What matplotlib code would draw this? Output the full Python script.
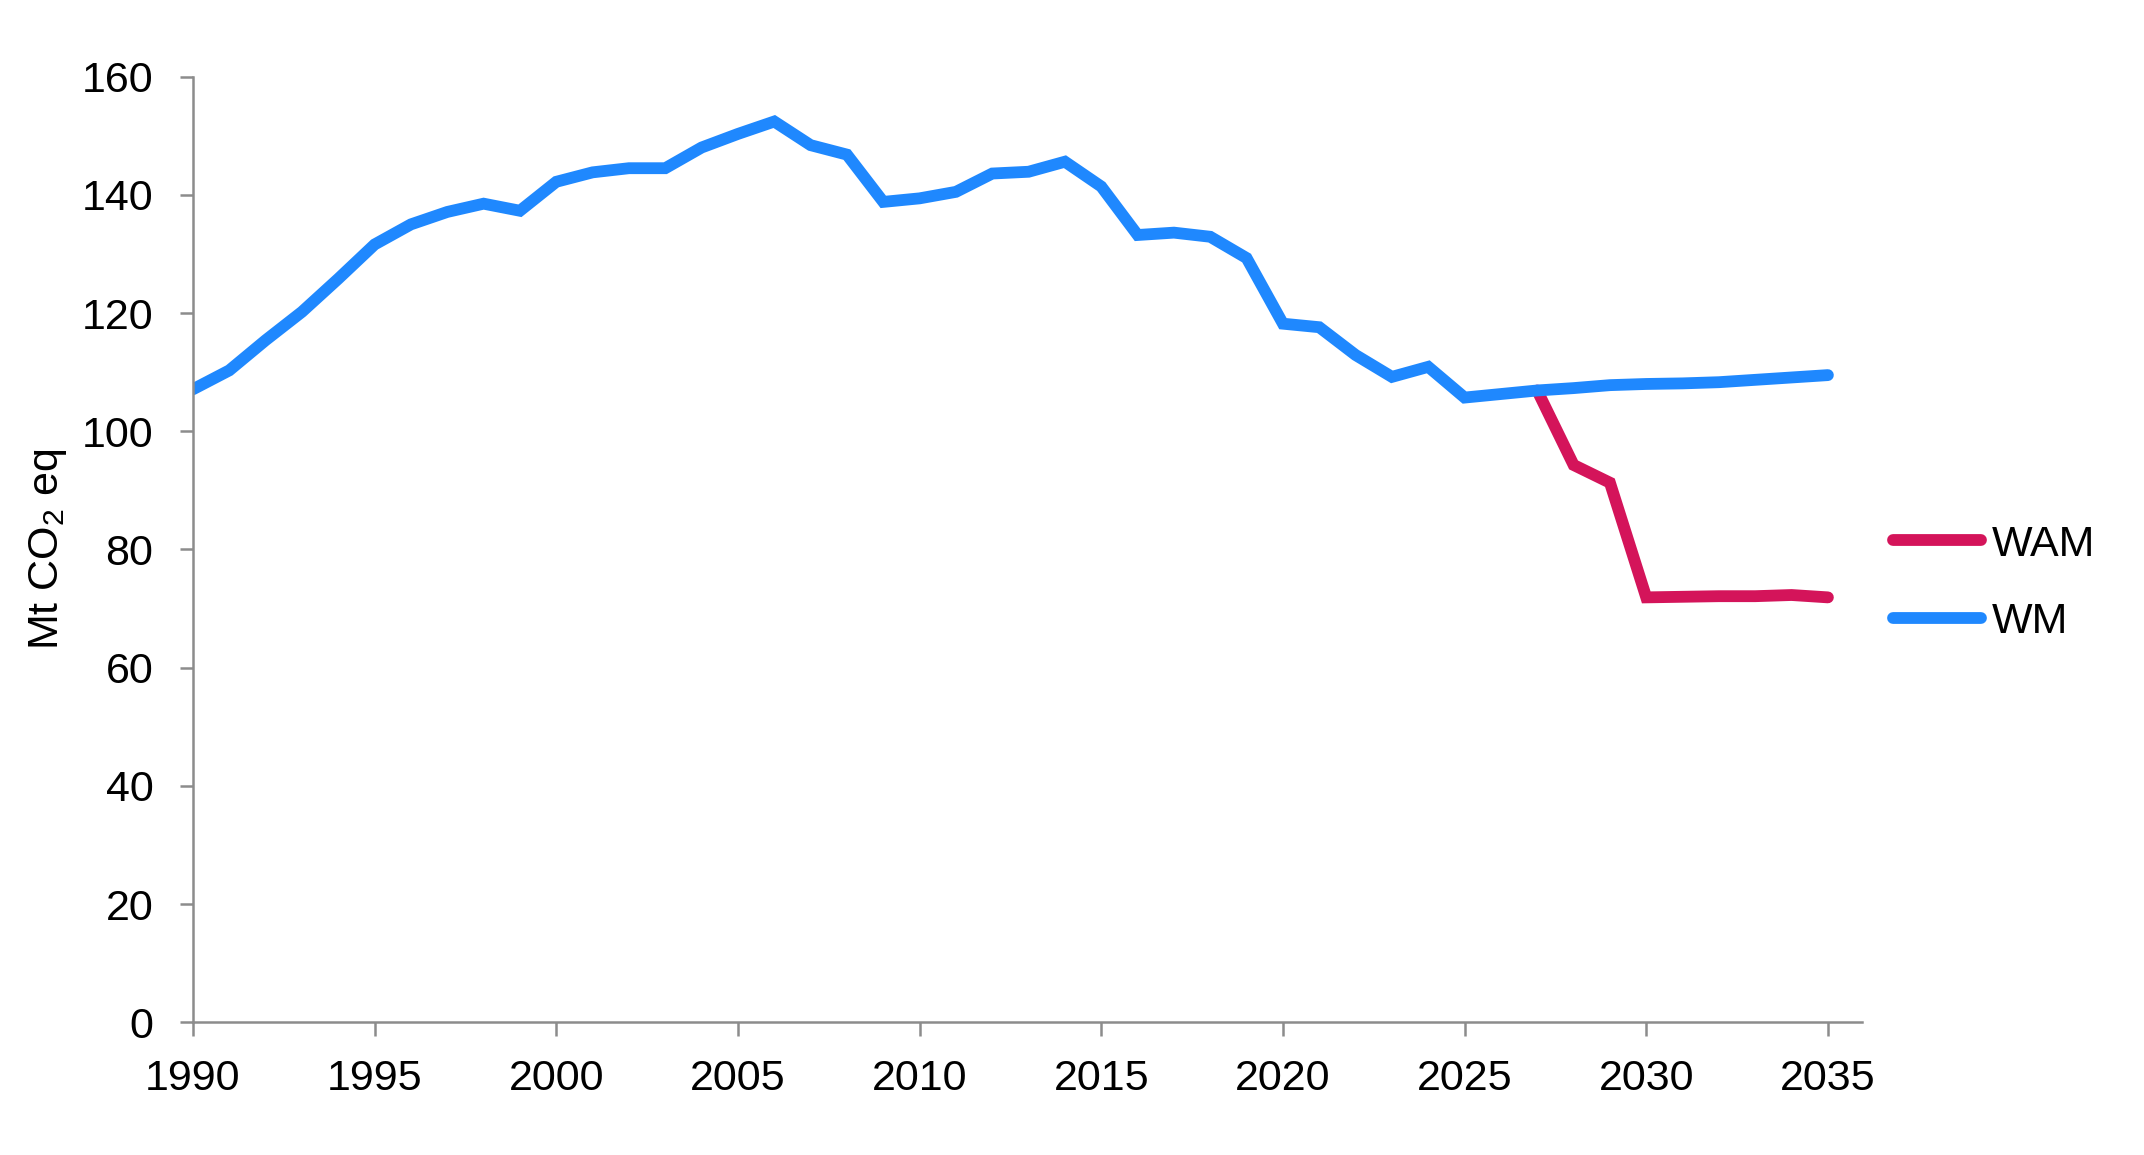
#!/usr/bin/env python3
"""
Plot projected greenhouse gas emissions (Mt CO2 eq) under the
WM and WAM scenarios, 1990-2035.
"""

import matplotlib
matplotlib.use("Agg")
import matplotlib.pyplot as plt

# Historical + WM projection
years = list(range(1990, 2036))
wm_values = [
    107.1, 110.3, 115.4, 120.2, 125.8, 131.6, 135.0, 137.1, 138.5, 137.3,
    142.2, 143.8, 144.5, 144.5, 148.0, 150.3, 152.4, 148.4, 146.8, 138.8,
    139.4, 140.5, 143.6, 143.9, 145.6, 141.4, 133.2, 133.6, 132.9, 129.3,
    118.2, 117.6, 112.9, 109.2, 110.9, 105.7, 106.3, 106.9, 107.3, 107.8,
    108.0, 108.1, 108.3, 108.7, 109.1, 109.5,
]

# WAM branches off from 2027
wam_years = list(range(2027, 2036))
wam_values = [106.9, 94.3, 91.3, 71.9, 72.0, 72.1, 72.1, 72.3, 71.9]

y_ticks = [0, 20, 40, 60, 80, 100, 120, 140, 160]
x_ticks = [1990, 1995, 2000, 2005, 2010, 2015, 2020, 2025, 2030, 2035]

WM_COLOR = "#1f88fe"
WAM_COLOR = "#d4145a"
AXIS_COLOR = "#8c8c8c"
FONT_SIZE = 31


def main():
    plt.rcParams["font.family"] = ["Liberation Sans", "DejaVu Sans"]
    plt.rcParams["mathtext.default"] = "regular"

    fig = plt.figure(figsize=(21.44, 11.55), dpi=100)
    ax = fig.add_axes([0.090, 0.1148, 0.7785, 0.8189])

    wam_line, = ax.plot(wam_years, wam_values, color=WAM_COLOR, lw=8.5,
                        solid_capstyle="round", solid_joinstyle="miter",
                        label="WAM")
    wm_line, = ax.plot(years, wm_values, color=WM_COLOR, lw=8.5,
                       solid_capstyle="round", solid_joinstyle="miter",
                       label="WM")

    ax.set_xlim(1990, 2035.94)
    ax.set_ylim(0, 160)
    ax.set_xticks(x_ticks)
    ax.set_yticks(y_ticks)

    for side in ("top", "right"):
        ax.spines[side].set_visible(False)
    for side in ("left", "bottom"):
        ax.spines[side].set_color(AXIS_COLOR)
        ax.spines[side].set_linewidth(1.8)

    ax.tick_params(axis="y", direction="out", length=9.5, width=1.8,
                   color=AXIS_COLOR, labelsize=FONT_SIZE, pad=19)
    ax.tick_params(axis="x", direction="out", length=10, width=1.8,
                   color=AXIS_COLOR, labelsize=FONT_SIZE, pad=16)

    ax.set_ylabel("Mt CO$_2$ eq", fontsize=FONT_SIZE)
    ax.yaxis.set_label_coords(-0.074, 0.5)

    fig.legend([wam_line, wm_line], ["WAM", "WM"],
               loc="center left", bbox_to_anchor=(0.883, 0.495),
               frameon=False, fontsize=FONT_SIZE, handlelength=2.05,
               handletextpad=0.25, labelspacing=0.87, borderpad=0,
               borderaxespad=0)

    fig.savefig("out.png", dpi=100)
    plt.close(fig)


if __name__ == "__main__":
    main()
